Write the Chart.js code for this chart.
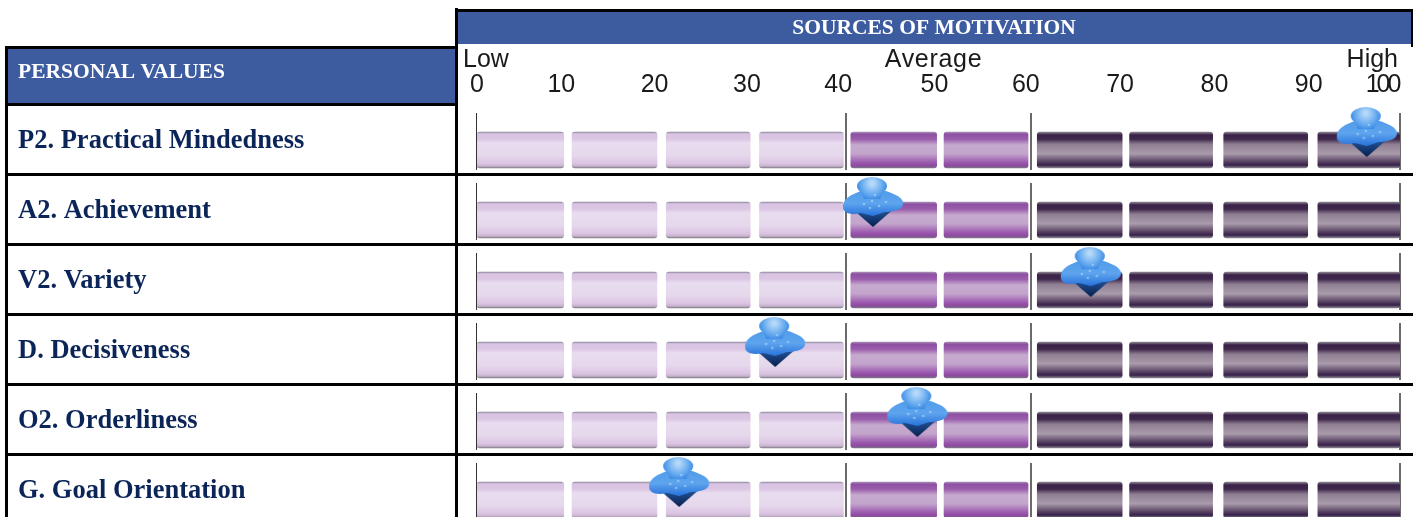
<!DOCTYPE html>
<html>
<head>
<meta charset="utf-8">
<title>Sources of Motivation</title>
<script src="https://cdn.jsdelivr.net/npm/chart.js@4"></script>
<style>
    html, body { margin: 0; padding: 0; background: #fff; overflow: hidden; }
    /* the last row is cut off by the bottom of the picture */
    #frame { width: 1420px; height: 517px; overflow: hidden; }
    #wrap { width: 1420px; height: 535px; position: relative; }
</style>
</head>
<body>
<div id="frame"><div id="wrap"><canvas id="motivationChart"></canvas></div></div>
<script>
// Data
const rowLabels = ['P2. Practical Mindedness', 'A2. Achievement', 'V2. Variety', 'D. Decisiveness', 'O2. Orderliness', 'G. Goal Orientation'];
const markerValues = [96.4, 42.9, 66.5, 32.3, 47.7, 21.9];
const segmentStarts = [0, 10.3, 20.5, 30.6, 40.5, 50.6, 60.7, 70.7, 80.9, 91.1];
const segmentEnds = [9.4, 19.5, 29.6, 39.7, 49.8, 59.7, 69.9, 79.7, 90, 100];
const segmentTones = ['low', 'low', 'low', 'low', 'mid', 'mid', 'high', 'high', 'high', 'high'];
const scaleTicks = [0, 10, 20, 30, 40, 50, 60, 70, 80, 90, 100];
const tickShifts = [0, -8, -7, -7, -8, -4, -5, -3, -1, 1, -18];
const bandLabels = ['Low', 'Average', 'High'];
const bandValues = [0, 50, 100];
const dividers = [0, 40, 60, 100];

const BLUE = '#3d5c9f';
const SERIF = '"Liberation Serif", serif';
const SANS = '"Liberation Sans", sans-serif';

// Vertical shading of each bar kind, top to bottom
const toneStops = {
    low: [[0, '#8f8aa0'], [0.05, '#d9c3e2'], [0.2, '#dcc6e4'], [0.3, '#e8dcef'], [0.65, '#e6d8ec'], [0.88, '#dbc2e2'], [0.95, '#c4b2ca'], [1, '#7e7a86']],
    mid: [[0, '#a58fb4'], [0.06, '#8e4fa2'], [0.2, '#9a5dac'], [0.36, '#c6aace'], [0.6, '#c3a5cc'], [0.85, '#9b58ae'], [0.94, '#8c4a9e'], [1, '#7a7684']],
    high: [[0, '#8d8791'], [0.08, '#3a2148'], [0.2, '#40284c'], [0.34, '#8f7e92'], [0.6, '#a99bab'], [0.82, '#5a4464'], [0.92, '#38204a'], [1, '#8a8890']]
};

function barFill(tone) {
    return function (ctx) {
        const chart = ctx.chart;
        const yScale = chart.scales.y;
        if (!yScale || ctx.dataIndex === undefined) return '#ddd';
        const y = yScale.getPixelForValue(ctx.dataIndex);
        if (!isFinite(y)) return '#ddd';
        const g = chart.ctx.createLinearGradient(0, y - 18, 0, y + 18);
        toneStops[tone].forEach(s => g.addColorStop(s[0], s[1]));
        return g;
    };
}

// Person marker with a dark pointer, drawn once and used as the point style.
// The picture only fills the top of the canvas so that the point sits on the bar centre.
function makeMarker() {
    const c = document.createElement('canvas');
    c.width = 62;
    c.height = 86;
    const g = c.getContext('2d');
    const tri = g.createLinearGradient(0, 30, 0, 50);
    tri.addColorStop(0, '#2a5fa8');
    tri.addColorStop(1, '#071f4e');
    g.fillStyle = tri;
    g.beginPath();
    g.moveTo(8, 30);
    g.lineTo(31, 50);
    g.lineTo(54, 30);
    g.closePath();
    g.fill();

    const body = g.createLinearGradient(0, 12, 0, 38);
    body.addColorStop(0, '#4f9bea');
    body.addColorStop(0.55, '#5ea4ee');
    body.addColorStop(1, '#2b76dc');
    g.fillStyle = body;
    g.beginPath();
    g.moveTo(1, 30);
    g.bezierCurveTo(1, 20, 12, 17, 21, 13);
    g.lineTo(41, 13);
    g.bezierCurveTo(50, 16, 62, 20, 61, 27);
    g.bezierCurveTo(61, 33, 50, 35, 43, 35);
    g.lineTo(31, 39);
    g.lineTo(19, 36);
    g.bezierCurveTo(10, 38, 1, 37, 1, 30);
    g.closePath();
    g.fill();

    const head = g.createRadialGradient(30, 6, 2, 30, 8, 17);
    head.addColorStop(0, '#b4d8f9');
    head.addColorStop(0.6, '#62a8ef');
    head.addColorStop(1, '#2f7fe0');
    g.fillStyle = head;
    g.beginPath();
    g.ellipse(30, 9, 15, 9, 0, 0, Math.PI * 2);
    g.fill();
    g.beginPath();
    g.moveTo(18, 12);
    g.lineTo(42, 12);
    g.lineTo(38, 22);
    g.lineTo(22, 22);
    g.closePath();
    g.fill();

    g.fillStyle = 'rgba(190,222,250,0.55)';
    [[22, 27], [30, 24], [37, 29], [28, 31], [44, 25], [33, 18]].forEach(p => {
        g.beginPath();
        g.arc(p[0], p[1], 1.3, 0, Math.PI * 2);
        g.fill();
    });
    return c;
}

// Table frame, header bands and the 0-100 scale text
const tableFrame = {
    id: 'tableFrame',
    beforeDatasetsDraw(chart) {
        const { ctx, scales: { x, y } } = chart;
        ctx.save();

        // header bands
        ctx.fillStyle = BLUE;
        ctx.fillRect(7, 49, 448, 55);
        ctx.fillRect(458, 12, 953, 32);

        // frame
        ctx.fillStyle = '#000';
        ctx.fillRect(455, 8, 3, 527);
        ctx.fillRect(455, 9, 958, 3);
        ctx.fillRect(1411, 9, 2, 38);
        ctx.fillRect(5, 46, 453, 3);
        ctx.fillRect(5, 46, 3, 489);
        ctx.fillRect(5, 103, 453, 3);
        for (let i = 0; i < rowLabels.length - 1; i++) {
            ctx.fillRect(5, y.getPixelForValue(i) + 23, 1408, 3);
        }

        // header text
        ctx.fillStyle = '#fff';
        ctx.textBaseline = 'middle';
        ctx.font = 'bold 21.5px ' + SERIF;
        ctx.textAlign = 'left';
        ctx.fillText('PERSONAL VALUES', 18, 72);
        ctx.textAlign = 'center';
        ctx.fillText('SOURCES OF MOTIVATION', 934, 28);

        // scale text
        ctx.fillStyle = '#1a1a1a';
        ctx.font = '25px ' + SANS;
        ctx.textBaseline = 'alphabetic';
        ctx.textAlign = 'center';
        scaleTicks.forEach((t, i) => {
            ctx.letterSpacing = t === 100 ? '-3px' : '0px';
            ctx.fillText(String(t), x.getPixelForValue(t) + tickShifts[i], 92);
        });
        ctx.letterSpacing = '0px';
        ctx.textAlign = 'left';
        ctx.fillText(bandLabels[0], x.getPixelForValue(bandValues[0]) - 14, 67);
        ctx.textAlign = 'center';
        ctx.letterSpacing = '0.7px';
        ctx.fillText(bandLabels[1], x.getPixelForValue(bandValues[1]) - 5, 67);
        ctx.letterSpacing = '0px';
        ctx.textAlign = 'right';
        ctx.fillText(bandLabels[2], x.getPixelForValue(bandValues[2]) - 2, 67);

        // thin dividers above each row of bars
        rowLabels.forEach((label, i) => {
            const cy = y.getPixelForValue(i);
            dividers.forEach(d => {
                ctx.fillStyle = d === 0 ? '#333' : '#6a6a6a';
                ctx.fillRect(Math.round(x.getPixelForValue(d)) - 1, cy - 37, d === 0 ? 1 : 2, 57);
            });
        });
        ctx.restore();
    }
};

function initChart() {
    const ctx = document.getElementById('motivationChart').getContext('2d');

    const marker = makeMarker();
    const datasets = [{
        type: 'scatter',
        data: rowLabels.map((label, i) => ({ x: markerValues[i], y: label })),
        pointStyle: marker,
        pointRadius: 31,
        order: 0,
        clip: false
    }];

    segmentStarts.forEach((start, i) => {
        datasets.push({
            type: 'bar',
            indexAxis: 'y',
            grouped: false,
            data: rowLabels.map(() => [start, segmentEnds[i]]),
            backgroundColor: barFill(segmentTones[i]),
            borderRadius: 3,
            borderSkipped: false,
            barThickness: 36,
            order: 1
        });
    });

    new Chart(ctx, {
        data: { labels: rowLabels, datasets: datasets },
        plugins: [tableFrame],
        options: {
            responsive: true,
            maintainAspectRatio: false,
            animation: false,
            indexAxis: 'y',
            layout: { autoPadding: false, padding: { left: 18, right: 20, top: 115, bottom: 0 } },
            plugins: { legend: { display: false }, tooltip: { enabled: false } },
            scales: {
                x: { type: 'linear', min: 0, max: 100, display: false },
                y: {
                    type: 'category',
                    labels: rowLabels,
                    afterFit(scale) {
                        scale.width = 459;
                        // no gutter for the first and last label
                        scale.paddingTop = 0;
                        scale.paddingBottom = 0;
                    },
                    border: { display: false },
                    grid: { display: false },
                    ticks: {
                        crossAlign: 'far',
                        labelOffset: -9,
                        color: '#0b2559',
                        font: { family: SERIF, size: 26.5, weight: 'bold' }
                    }
                }
            }
        }
    });
}

document.addEventListener('DOMContentLoaded', initChart);
</script>
</body>
</html>
